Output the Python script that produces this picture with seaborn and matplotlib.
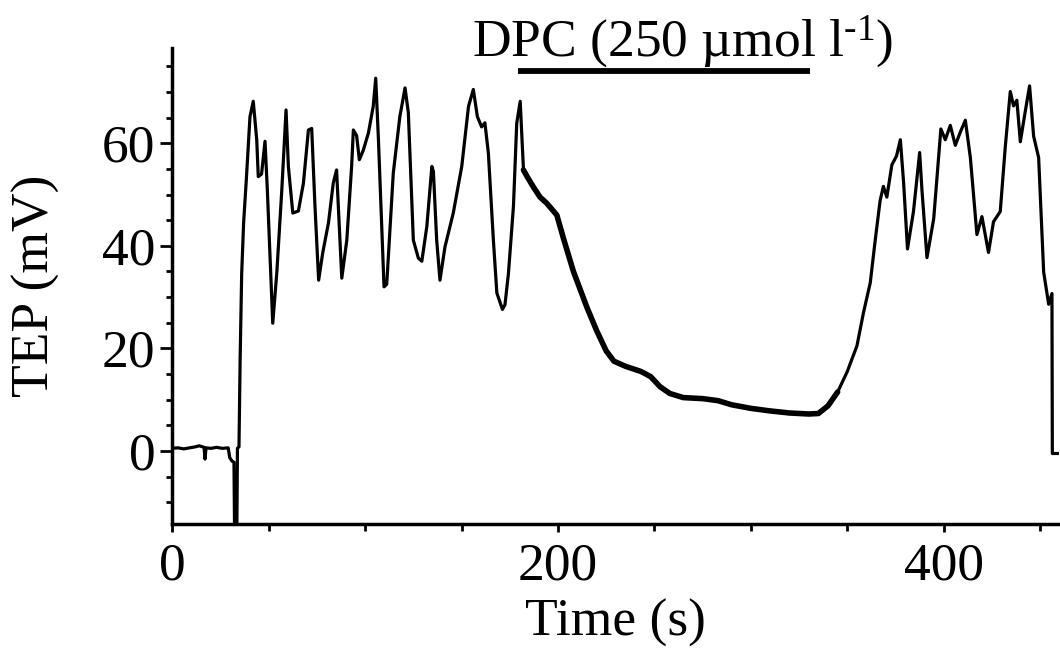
import numpy as np
import pandas as pd
import matplotlib
matplotlib.use("Agg")
import matplotlib.pyplot as plt
import seaborn as sns
from matplotlib.ticker import MultipleLocator, FixedLocator

# ---- data ----
time_s = [0, 3, 6, 9, 12, 14, 16.5, 17, 17.5, 20, 23, 26, 29, 29.8, 31, 32, 32.3, 33.5, 33.8, 34.6,
          35.2, 36, 37, 38.4, 40.3, 42, 43.8, 44.6, 46.3, 48.1, 49.3, 52.1, 54.2, 56.8, 59, 60.2,
          62.5, 65.4, 68, 70.6, 72.3, 74, 75.9, 78, 81, 83.5, 85.2, 87.9, 90.5, 93, 93.9, 95.6, 97,
          99, 101.7, 104.2, 105.5, 106.9, 109.8, 111.2, 114.6, 118, 120.7, 122.4, 125, 127.6, 129.4,
          132, 134.6, 135.4, 137.1, 138.8, 141.4, 145.7, 150.1, 153.6, 156.1, 158.2, 160.4, 162.1,
          163.9, 166.5, 168.3, 171.2, 172.5, 174.3, 176.9, 178.6, 180.4, 182.1, 184, 187.2, 190.7,
          194.2, 199.4, 202.8, 208, 215, 220, 225, 229, 235, 243, 248, 253, 258, 265, 275, 283,
          290, 300, 310, 320, 330, 335, 340, 345, 350, 355, 358.4, 361.9, 364.5, 367, 368.7, 370.5,
          373.1, 375.5, 377.5, 379.2, 381.2, 384.3, 387.5, 388.7, 391.3, 394.8, 398.5, 400.8, 403.4,
          406, 408.5, 411.2, 413.8, 417.2, 419.8, 423.2, 425.8, 429.3, 431.9, 434.5, 436.2, 437.9,
          439.7, 442.3, 444.5, 446.6, 449.2, 451.8, 454.4, 456.1, 456.3, 458, 460]
tep_mv = [0.5, 0.6, 0.4, 0.6, 0.8, 1.0, 0.7, -1.6, 0.6, 0.5, 0.7, 0.5, 0.6, -1.3, -2.0, -2.2, -15, -15, 0.5, 0.8,
          18, 34.6, 44.5, 52.9, 65.2, 68.2, 60.7, 53.5, 54.0, 60.4, 50.9, 24.9, 34.7, 50.9, 66.5, 55.5,
          46.4, 46.8, 52.2, 62.6, 62.9, 47.7, 33.3, 38.6, 44.5, 52.3, 54.8, 33.7, 41.1, 55.5, 62.6, 61.5, 56.8,
          58.6, 62.0, 67.2, 72.7, 60.7, 32.0, 32.5, 54.2, 65.2, 70.8, 66.0, 41.1, 37.6, 37.0,
          43.8, 55.5, 54.5, 41.1, 33.3, 39.8, 46.4, 55.5, 67.2, 70.5, 65.2, 63.2, 64.0,
          58.1, 41.1, 30.8, 27.6, 28.5, 34.6, 47.7, 63.9, 68.2, 54.8, 53.5, 51.5, 49.5,
          48.3, 46.0, 41.5, 35.0, 28.0, 23.5, 19.5, 17.5, 16.5, 15.5, 14.5, 12.5, 11.2, 10.4, 10.2, 9.8,
          9.0, 8.3, 7.8, 7.4, 7.2, 7.3, 8.8, 11.5, 15.5, 20.5, 27.0, 32.8, 41.2, 48.8, 51.6, 49.5,
          55.8, 57.5, 60.7, 52.3, 39.4, 46.7, 58.2, 50.9, 37.7, 45.3, 62.8, 60.7, 63.5,
          59.6, 62.1, 64.5, 57.2, 42.2, 45.7, 38.7, 44.7, 46.7, 59.3, 70.1, 67.3, 68.4,
          60.3, 66.3, 71.2, 61.4, 57.2, 34.9, 28.6, 30.7, -0.5, -0.5, -0.5]

dpc_start, dpc_end = 179.5, 330.7
dpc_level = 74.1
dpc_label = "DPC (250 \u00b5mol l$^{\\mathregular{\u2010}1}$)"
x_ticks = [0, 200, 400]
y_ticks = [0, 20, 40, 60]

df = pd.DataFrame({"Time (s)": time_s, "TEP (mV)": tep_mv})

sns.set_style("ticks")
plt.rcParams["font.family"] = ["Liberation Serif", "DejaVu Serif"]
plt.rcParams["mathtext.fontset"] = "custom"
plt.rcParams["mathtext.rm"] = "Liberation Serif"
plt.rcParams["mathtext.it"] = "Liberation Serif:italic"
plt.rcParams["mathtext.bf"] = "Liberation Serif:bold"

fig = plt.figure(figsize=(10.6, 6.48), dpi=100)
ax = fig.add_axes([0.1625, 0.191, 0.837, 0.735])

sns.lineplot(data=df, x="Time (s)", y="TEP (mV)", ax=ax, color="black",
             linewidth=2.3, estimator=None, sort=False)
mask = (df["Time (s)"] >= 182) & (df["Time (s)"] <= 345)
sns.lineplot(data=df[mask], x="Time (s)", y="TEP (mV)", ax=ax, color="black",
             linewidth=4.0, estimator=None, sort=False)

ax.set_xlim(0, 460)
ax.set_ylim(-14.3, 78.6)

ax.xaxis.set_major_locator(FixedLocator(x_ticks))
ax.xaxis.set_minor_locator(MultipleLocator(50))
ax.yaxis.set_major_locator(FixedLocator(y_ticks))
ax.yaxis.set_minor_locator(MultipleLocator(5))

fs = 38.5
ax.tick_params(axis="both", which="both", direction="out", width=2,
               color="black", labelsize=fs, labelcolor="black")
ax.tick_params(axis="x", which="major", length=6, pad=7)
ax.tick_params(axis="x", which="minor", length=5)
ax.tick_params(axis="y", which="major", length=9, pad=3)
ax.tick_params(axis="y", which="minor", length=4)

for side in ["top", "right"]:
    ax.spines[side].set_visible(False)
for side in ["left", "bottom"]:
    ax.spines[side].set_linewidth(2.5)
    ax.spines[side].set_color("black")

ax.set_xlabel("Time (s)", fontsize=fs, color="black", labelpad=6)
ax.set_ylabel("TEP (mV)", fontsize=fs, color="black", labelpad=30)

ax.plot([dpc_start, dpc_end], [dpc_level, dpc_level], color="black", linewidth=4.2,
        solid_capstyle="butt", clip_on=False)
ax.text(264.4, 77.0, dpc_label, ha="center", va="baseline", fontsize=fs, color="black",
        clip_on=False)

fig.savefig("out.png", dpi=100, facecolor="white")
